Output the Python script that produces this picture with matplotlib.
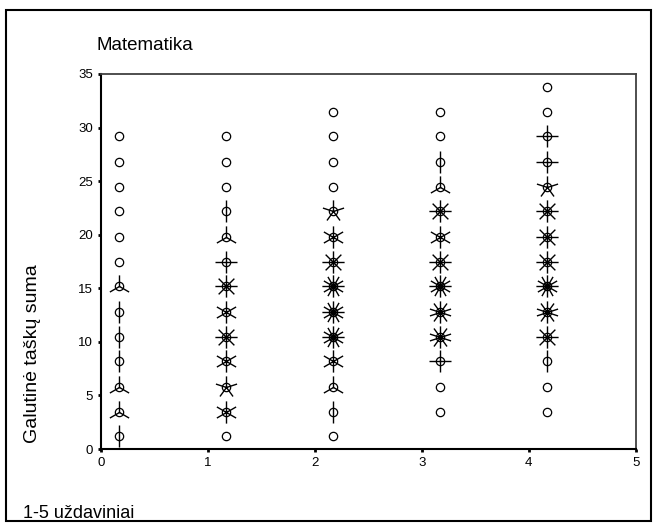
import numpy as np
import matplotlib
matplotlib.use("Agg")
import matplotlib.pyplot as plt
from matplotlib.path import Path
from matplotlib.patches import Rectangle

plt.rcParams['font.family'] = ['Liberation Sans', 'DejaVu Sans']

# ---- data ----
title = "Matematika"
x_label = "1-5 uždaviniai"
y_label = "Galutinė taškų suma"
x_centers = [0.17, 1.17, 2.17, 3.17, 4.17]
y_centers = [1.17, 3.5, 5.83, 8.17, 10.5, 12.83, 15.17, 17.5, 19.83, 22.17,
             24.5, 26.83, 29.17, 31.5, 33.83]
# number of petals per sunflower (None = no point)
petals_col0 = [2, 3, 3, 2, 2, 2, 3, 0, 0, 0, 0, 0, 0, None, None]
petals_col1 = [0, 6, 5, 6, 8, 6, 8, 4, 3, 2, 0, 0, 0, None, None]
petals_col2 = [0, 2, 3, 6, 12, 12, 12, 8, 6, 5, 0, 0, 0, 0, None]
petals_col3 = [None, 0, 0, 4, 10, 10, 12, 8, 6, 8, 3, 2, 0, 0, None]
petals_col4 = [None, 0, 0, 2, 8, 10, 12, 8, 8, 8, 5, 4, 4, 0, 0]
petals = [petals_col0, petals_col1, petals_col2, petals_col3, petals_col4]
x_ticks = [0, 1, 2, 3, 4, 5]
y_ticks = [0, 5, 10, 15, 20, 25, 30, 35]

W, H = 659, 531
fig = plt.figure(figsize=(W / 100, H / 100), dpi=100)
ax = fig.add_axes([100.7 / W, 1 - 449 / H, (635.7 - 100.7) / W, (449 - 74) / H])

_cache = {}
def petal_marker(n):
    if n not in _cache:
        verts, codes = [], []
        for i in range(n):
            a = np.deg2rad(90 + 360.0 * i / n)
            verts += [(0, 0), (np.cos(a), np.sin(a))]
            codes += [Path.MOVETO, Path.LINETO]
        # symmetric bounds so the marker is centred
        verts += [(-1, -1), (1, 1)]
        codes += [Path.MOVETO, Path.MOVETO]
        _cache[n] = Path(verts, codes)
    return _cache[n]

for xc, col in zip(x_centers, petals):
    for yc, n in zip(y_centers, col):
        if n is None:
            continue
        if n > 0:
            ax.plot([xc], [yc], linestyle='none', marker=petal_marker(n),
                    markersize=16, markeredgecolor='black', markerfacecolor='none',
                    markeredgewidth=1.0, zorder=2, clip_on=False)
        ax.plot([xc], [yc], linestyle='none', marker='o', markersize=6,
                markerfacecolor='none', markeredgecolor='black',
                markeredgewidth=0.9, zorder=3, clip_on=False)

ax.set_xlim(0, 5)
ax.set_ylim(0, 35)
ax.set_xticks(x_ticks)
ax.set_yticks(y_ticks)
ax.tick_params(direction='out', length=2.5, width=2, labelsize=9.5, pad=3, colors='black')
for s in ['left', 'bottom']:
    ax.spines[s].set_linewidth(1.5)
    ax.spines[s].set_color('black')
for s in ['top', 'right']:
    ax.spines[s].set_linewidth(1.3)
    ax.spines[s].set_color('#404040')

fig.text(97 / W, 1 - 45 / H, title, fontsize=13.5, ha='left', va='center')
fig.text(33 / W, 1 - 354 / H, y_label, fontsize=14, rotation=90, ha='center', va='center')
fig.text(23 / W, 1 - 513 / H, x_label, fontsize=13, ha='left', va='center')

fig.patches.append(Rectangle((6 / W, 1 - 521 / H), (651 - 6) / W, (521 - 10) / H,
                             transform=fig.transFigure, fill=False,
                             edgecolor='black', linewidth=1.5))

fig.savefig("out.png", dpi=100)
